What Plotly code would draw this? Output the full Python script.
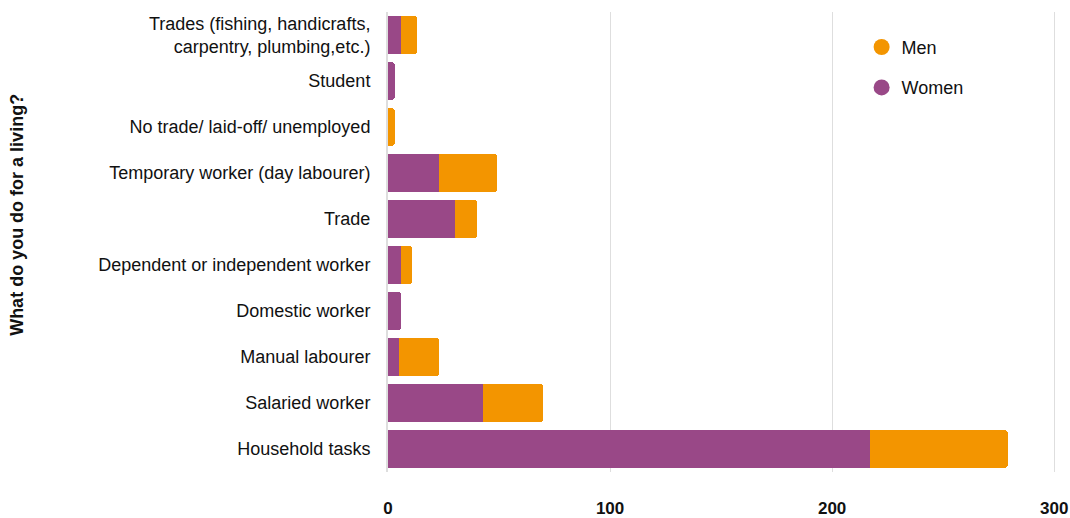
import plotly.graph_objects as go

categories = [
    "Household tasks",
    "Salaried worker",
    "Manual labourer",
    "Domestic worker",
    "Dependent or independent worker",
    "Trade",
    "Temporary worker (day labourer)",
    "No trade/ laid-off/ unemployed",
    "Student",
    "Trades (fishing, handicrafts,<br>carpentry, plumbing,etc.)",
]
women = [217, 43, 5, 6, 6, 30, 23, 0, 3, 6]
men = [62, 27, 18, 0, 5, 10, 26, 3, 0, 7]
x_ticks = [0, 100, 200, 300]

PURPLE = "#994887"
ORANGE = "#f39500"

fig = go.Figure()
fig.add_trace(go.Bar(y=categories, x=women, orientation="h", name="Women",
                     marker=dict(color=PURPLE, line=dict(width=0)), showlegend=False))
fig.add_trace(go.Bar(y=categories, x=men, orientation="h", name="Men",
                     marker=dict(color=ORANGE, line=dict(width=0)), showlegend=False))
# legend entries with circle markers
fig.add_trace(go.Scatter(x=[None], y=[None], mode="markers", name="Men", legendgroup="m",
                         marker=dict(color=ORANGE, size=18, symbol="circle")))
fig.add_trace(go.Scatter(x=[None], y=[None], mode="markers", name="Women", legendgroup="w",
                         marker=dict(color=PURPLE, size=18, symbol="circle")))

W, H = 1070, 518
L, R, T, B = 388, 14, 12, 46
PW = W - L - R

fig.update_layout(
    width=W, height=H,
    barmode="stack",
    bargap=0.174,
    barcornerradius=3,
    plot_bgcolor="white",
    paper_bgcolor="white",
    margin=dict(l=L, r=R, t=T, b=B),
    font=dict(family="Liberation Sans, Arial, sans-serif", size=18, color="#111"),
    legend=dict(x=0.709, y=0.9635, xanchor="left", yanchor="top",
                traceorder="grouped", tracegroupgap=14,
                font=dict(size=18, color="#111"), itemsizing="trace",
                bgcolor="rgba(0,0,0,0)"),
    xaxis=dict(range=[0, 300.8], tickvals=x_ticks, showgrid=True, gridcolor="#dedede",
               gridwidth=1, zeroline=False, showline=False, automargin=False,
               tickfont=dict(family="Liberation Sans, Arial", size=17,
                             color="#111", weight="bold"),
               ticklabelstandoff=24, fixedrange=True),
    yaxis=dict(categoryorder="array", categoryarray=categories, automargin=False,
               showgrid=False, zeroline=False, showline=True, linecolor="#dedede", linewidth=2,
               ticklabelstandoff=12, tickfont=dict(size=18, color="#111"), fixedrange=True),
    annotations=[dict(text="<b>What do you do for a living?</b>", textangle=-90,
                      xref="paper", yref="paper", x=(17 - L) / PW, y=0.559,
                      xanchor="center", yanchor="middle", showarrow=False,
                      font=dict(size=18, color="#111"))],
)

fig.write_html("out.html", config={"displayModeBar": False},
               post_script="document.body.style.margin='0';document.body.style.overflow='hidden';")
